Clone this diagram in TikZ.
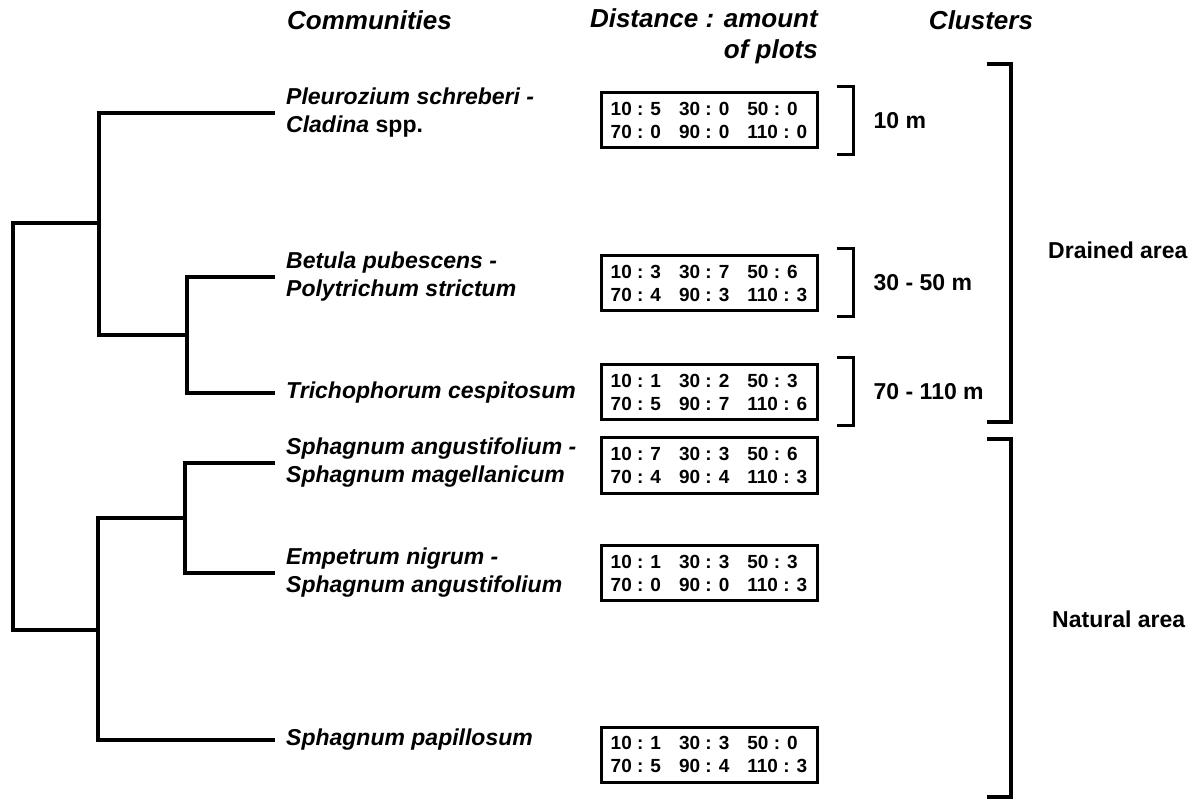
\documentclass[tikz,border=0pt]{standalone}
\usepackage{fontspec}
\setmainfont{Liberation Sans}
\usetikzlibrary{positioning}

\begin{document}
\begin{tikzpicture}[x=1pt, y=-1pt,
    branch/.style={line width=4pt, line join=miter},
    heading/.style={font=\fontsize{26}{31}\selectfont\bfseries\itshape, inner sep=0pt},
    community/.style={font=\fontsize{23}{28}\selectfont\bfseries\itshape, anchor=west,
                      align=left, inner xsep=11pt, inner ysep=0pt},
    plotbox/.style={draw, line width=3pt, minimum width=216pt, minimum height=55pt,
                    align=left, inner sep=0pt, font=\fontsize{19}{23}\selectfont\bfseries},
    bracket/.style={line width=3pt},
    cluster/.style={font=\fontsize{23}{28}\selectfont\bfseries, anchor=west, inner sep=0pt}]

    \useasboundingbox (0,0) rectangle (1197,799);

    % headings
    \node[heading, anchor=west] (hcomm) at (287,20) {Communities};
    \node[heading, anchor=east, align=right] (hdist) at (818,36) {Distance : amount\\of plots};
    \node[heading] (hclus) at (981,20) {Clusters};

    % communities
    \node[community] (pleu) at (275,113) {Pleurozium schreberi -\\Cladina \textup{spp.}};
    \node[community] (betula) at (275,277) {Betula pubescens -\\Polytrichum strictum};
    \node[community] (tricho) at (275,393) {Trichophorum cespitosum};
    \node[community] (sphang) at (275,463) {Sphagnum angustifolium -\\Sphagnum magellanicum};
    \node[community] (empet) at (275,573) {Empetrum nigrum -\\Sphagnum angustifolium};
    \node[community] (papil) at (275,740) {Sphagnum papillosum};

    % distance : amount of plots
    \node[plotbox] (box1) at (709,120.5) {10 : 5\hspace{18pt}30 : 0\hspace{18pt}50 : 0\\70 : 0\hspace{18pt}90 : 0\hspace{18pt}110 : 0};
    \node[plotbox] (box2) at (709,283) {10 : 3\hspace{18pt}30 : 7\hspace{18pt}50 : 6\\70 : 4\hspace{18pt}90 : 3\hspace{18pt}110 : 3};
    \node[plotbox] (box3) at (709,392) {10 : 1\hspace{18pt}30 : 2\hspace{18pt}50 : 3\\70 : 5\hspace{18pt}90 : 7\hspace{18pt}110 : 6};
    \node[plotbox] (box4) at (709,465.5) {10 : 7\hspace{18pt}30 : 3\hspace{18pt}50 : 6\\70 : 4\hspace{18pt}90 : 4\hspace{18pt}110 : 3};
    \node[plotbox] (box5) at (709,573) {10 : 1\hspace{18pt}30 : 3\hspace{18pt}50 : 3\\70 : 0\hspace{18pt}90 : 0\hspace{18pt}110 : 3};
    \node[plotbox] (box6) at (709,754.5) {10 : 1\hspace{18pt}30 : 3\hspace{18pt}50 : 0\\70 : 5\hspace{18pt}90 : 4\hspace{18pt}110 : 3};

    % tree
    \coordinate (nA) at (187,335);
    \coordinate (nB) at (99,223);
    \coordinate (nC) at (185,518);
    \coordinate (nD) at (98,630);
    \coordinate (root) at (13,426);
    \draw[branch] (betula.west) -| (nA) |- (tricho.west);
    \draw[branch] (pleu.west) -| (nB) |- (nA);
    \draw[branch] (sphang.west) -| (nC) |- (empet.west);
    \draw[branch] (nC) -| (nD) |- (papil.west);
    \draw[branch] (nB) -| (root) |- (nD);

    % clusters
    \foreach \b in {box1,box2,box3}
        \draw[bracket] ([shift={(18,-5)}]\b.north east) -- ++(17,0) |- ([shift={(18,5)}]\b.south east);
    \node[cluster, right=55pt of box1] (c1) {10 m};
    \node[cluster, right=55pt of box2] (c2) {30 - 50 m};
    \node[cluster, right=55pt of box3] (c3) {70 - 110 m};

    \draw[bracket, line width=3.5pt] (987,64) -| (1011,422) -- (987,422);
    \draw[bracket, line width=3.5pt] (987,439) -| (1011,797) -- (987,797);
    \node[cluster] (drained) at (1048,250) {Drained area};
    \node[cluster] (natural) at (1052,619) {Natural area};

\end{tikzpicture}
\end{document}
